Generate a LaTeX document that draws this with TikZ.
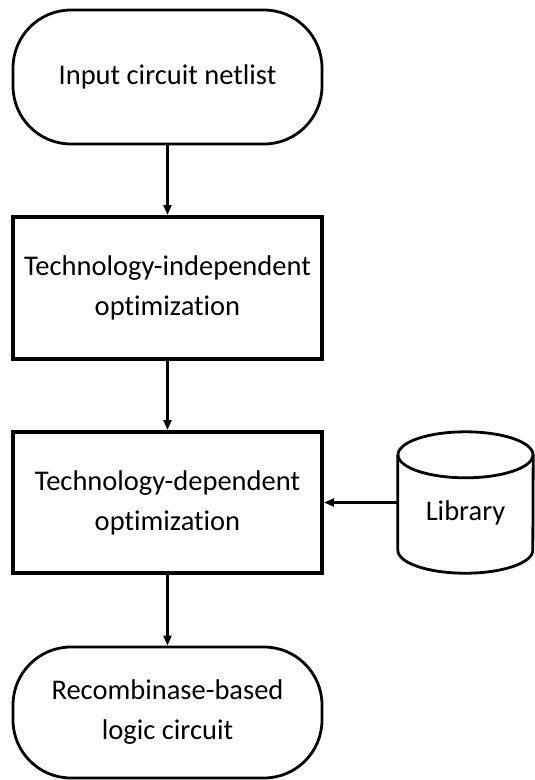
\documentclass[tikz,border=0pt]{standalone}
\usepackage{fontspec}
\setmainfont{Carlito}[Ligatures=NoCommon]
\usetikzlibrary{arrows.meta,calc}
\begin{document}
\begin{tikzpicture}[x=1pt,y=-1pt,
  label text/.style={align=center, font=\fontsize{28.5}{40}\selectfont, text=black},
  terminal/.style={draw, line width=2.8pt, rounded corners=58pt, minimum width=309pt, inner sep=0pt, label text},
  process/.style={draw, line width=4pt, minimum width=309pt, inner sep=0pt, label text},
  flow/.style={line width=2.2pt, -{Triangle[length=10pt,width=8pt]}}]
  \useasboundingbox (0,0) rectangle (535,780);

  % flow chart column
  \node[terminal, minimum height=134pt] (input) at (167.5,77) {Input circuit netlist};
  \node[process, minimum height=142pt] (indep) at (167.5,288) {Technology-independent\\optimization};
  \node[process, minimum height=141pt] (dep) at (167.5,502.5) {Technology-dependent\\optimization};
  \node[terminal, minimum height=131pt] (output) at (167.5,712.5) {Recombinase-based\\logic circuit};

  % cell library drawn as a cylinder, its name set a little below the middle
  \node[minimum width=135pt, minimum height=141pt, inner sep=0pt,
        label={[label text, yshift=-10pt]center:Library}] (lib) at (465.5,502.5) {};
  \draw[line width=2.8pt]
    ($(lib.north west)+(0,23)$) -- ($(lib.south west)+(0,-23)$)
    arc[start angle=180, end angle=360, x radius=67.5pt, y radius=23pt]
    -- ($(lib.north east)+(0,23)$);
  \draw[line width=2.8pt] ($(lib.north)+(0,23)$) ellipse[x radius=67.5pt, y radius=23pt];

  % connectors
  \draw[flow] (input) -- (indep);
  \draw[flow] (indep) -- (dep);
  \draw[flow] (dep) -- (output);
  \draw[flow] (lib.west) -- (dep.east);
\end{tikzpicture}
\end{document}
